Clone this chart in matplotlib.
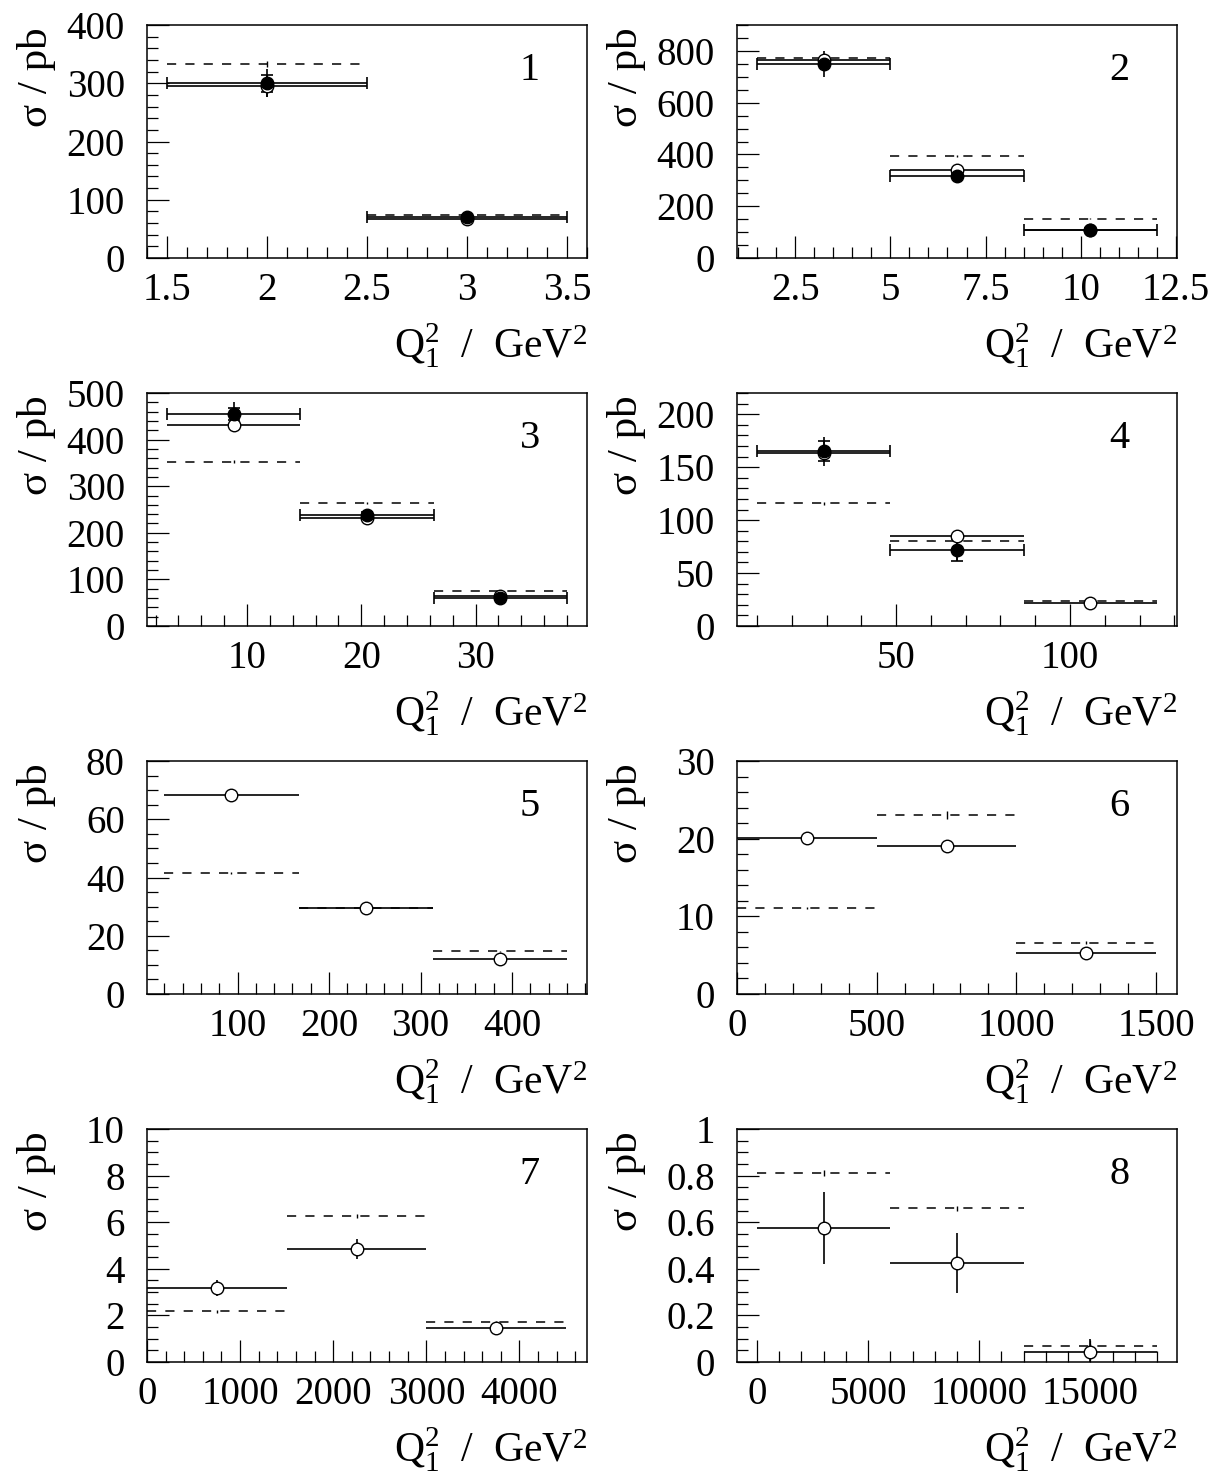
import numpy as np
import matplotlib.pyplot as plt
from matplotlib.ticker import MultipleLocator, FuncFormatter

plt.rcParams['font.family'] = ['Liberation Serif', 'DejaVu Serif']
plt.rcParams['mathtext.fontset'] = 'custom'
plt.rcParams['mathtext.rm'] = 'Liberation Serif'
plt.rcParams['mathtext.it'] = 'Liberation Serif:italic'

### bin edges in Q1^2 for the 8 panels
edges = [[1.5, 2.5, 3.5],
         [1.5, 5.0, 8.5, 12.0],
         [3.0, 14.667, 26.333, 38.0],
         [10.0, 48.333, 86.667, 125.0],
         [20.0, 166.67, 313.33, 460.0],
         [0.0, 500.0, 1000.0, 1500.0],
         [0.0, 1500.0, 3000.0, 4500.0],
         [0.0, 6000.0, 12000.0, 18000.0]]

### filled points (only panels 1-4), stat and total errors
filled = [[300, 71], [751, 316, 110], [454, 238, 61], [165, 71.5, np.nan],
          None, None, None, None]
filled_stat = [[15, 3], [10, 8, 5], [13, 6, 4], [9.5, 10.5, 0],
               None, None, None, None]
filled_tot = [[24, 4], [50, 10, 6], [27, 8, 5], [13.5, 10.5, 0],
              None, None, None, None]

### open points
opn = [[295, 67], [764, 340, 110], [432, 231, 64], [163, 84.7, 21.7],
       [68.2, 29.6, 12.0], [20.1, 19.1, 5.3], [3.18, 4.84, 1.46],
       [0.576, 0.424, 0.045]]
opn_err = [[19, 3], [10, 8, 4], [8, 6, 3], [3, 3, 1.5],
           [0.6, 0.4, 0.3], [0.5, 0.5, 0.3], [0.36, 0.44, 0.12],
           [0.155, 0.13, 0.052]]

### theory (dashed)
theo = [[333, 74], [773, 395, 151], [353, 264, 76], [116, 80, 23.6],
        [41.5, 29.4, 14.6], [11.07, 23.0, 6.6], [2.17, 6.26, 1.71],
        [0.811, 0.66, 0.069]]
theo_err = [[5, 1], [6, 3, 2], [4, 3, 2], [1.5, 1.5, 1],
            [0.3, 0.3, 0.3], [0.1, 0.5, 0.2], [0.05, 0.1, 0.05],
            [0.014, 0.01, 0.01]]

### axis ranges and ticks
xlims = [(1.4, 3.6), (0.975, 12.525), (1.25, 39.75), (4.25, 130.75),
         (1, 482), (0, 1575), (0, 4725), (-900, 18900)]
ylims = [(0, 400), (0, 900), (0, 500), (0, 220), (0, 80), (0, 30), (0, 10), (0, 1)]
xmaj = [0.5, 2.5, 10, 50, 100, 500, 1000, 5000]
xmin = [0.1, 0.5, 2, 10, 20, 100, 200, 1000]
ymaj = [100, 200, 100, 50, 20, 10, 2, 0.2]
ymin = [20, 50, 20, 10, 5, 2, 0.5, 0.05]

fig = plt.figure(figsize=(12.2, 14.75), dpi=100)
lefts = [147, 737]
tops = [25, 393, 761, 1129]
W, H = 440, 233
fs = 28
fmt = FuncFormatter(lambda v, p: '%g' % round(v, 6))

for i in range(8):
    r, c = divmod(i, 2)
    ax = fig.add_axes([lefts[c] / 1220, 1 - (tops[r] + H) / 1475, W / 1220, H / 1475])
    e = np.array(edges[i])
    xc = 0.5 * (e[:-1] + e[1:])
    xw = 0.5 * (e[1:] - e[:-1])
    # theory
    ax.hlines(theo[i], e[:-1], e[1:], colors='k', linestyles=(0, (6, 6)), lw=1.1)
    ax.errorbar(xc, theo[i], yerr=theo_err[i], fmt='none', ecolor='k',
                elinewidth=1.0, capsize=0)
    # open points
    ax.errorbar(xc, opn[i], xerr=xw, yerr=opn_err[i], fmt='o', mfc='white',
                mec='k', ms=9, mew=1.0, ecolor='k', elinewidth=1.2, capsize=0)
    # filled points
    if filled[i] is not None:
        ax.errorbar(xc, filled[i], yerr=filled_tot[i], fmt='none', ecolor='k',
                    elinewidth=1.2, capsize=0)
        ax.errorbar(xc, filled[i], xerr=xw, yerr=filled_stat[i], fmt='o',
                    color='k', ms=9, ecolor='k', elinewidth=1.2,
                    capsize=4.5, capthick=1.2)
    ax.set_xlim(*xlims[i])
    ax.set_ylim(*ylims[i])
    ax.xaxis.set_major_locator(MultipleLocator(xmaj[i]))
    ax.xaxis.set_minor_locator(MultipleLocator(xmin[i]))
    ax.yaxis.set_major_locator(MultipleLocator(ymaj[i]))
    ax.yaxis.set_minor_locator(MultipleLocator(ymin[i]))
    ax.xaxis.set_major_formatter(fmt)
    ax.yaxis.set_major_formatter(fmt)
    ax.tick_params(which='both', direction='in', top=False, right=False,
                   labelsize=fs, width=0.9)
    ax.tick_params(which='major', length=16)
    ax.tick_params(which='minor', length=8)
    ax.tick_params(axis='x', pad=10)
    ax.tick_params(axis='y', pad=16)
    for s in ax.spines.values():
        s.set_linewidth(1.1)
    ax.text(0.87, 0.806, str(i + 1), transform=ax.transAxes, ha='center',
            va='center', fontsize=29)
    ax.text(1.0, -0.43, r'Q$_1^2$  /  GeV$^2$', transform=ax.transAxes,
            ha='right', va='baseline', fontsize=30)
    ax.text(-0.25, 0.99, 'σ / pb', transform=ax.transAxes, rotation=90,
            ha='center', va='top', fontsize=31)

plt.savefig('out.png', dpi=100)
